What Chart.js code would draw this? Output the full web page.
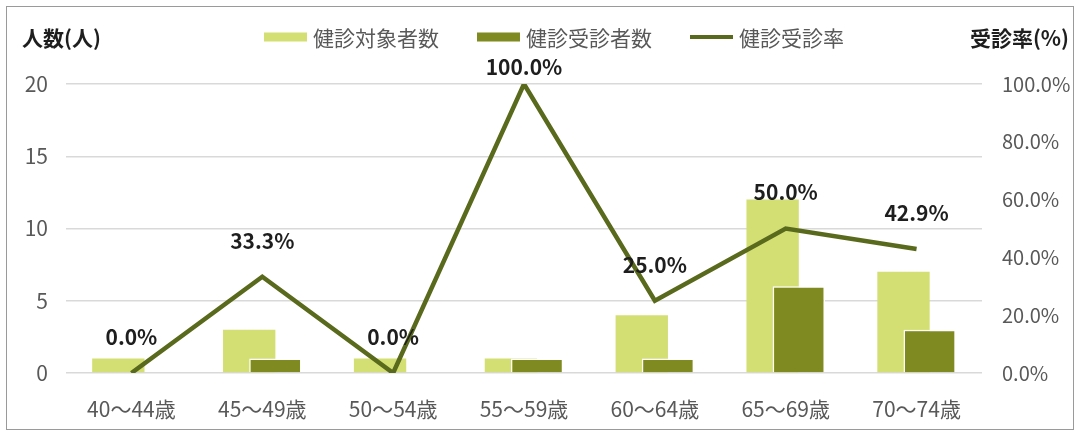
<!DOCTYPE html>
<html lang="ja">
<head>
<meta charset="utf-8">
<script src="https://cdn.jsdelivr.net/npm/chart.js@4.4.0/dist/chart.umd.min.js"></script>
<style>
  html, body { margin: 0; padding: 0; background: #fff; }
  #wrap { position: relative; width: 1078px; height: 436px; }
  #frame {
    position: absolute; left: 6px; top: 6px; width: 1066px; height: 422px;
    border: 1px solid #9a9a9a; pointer-events: none;
  }
</style>
</head>
<body>
<div id="wrap">
  <canvas id="examChart" width="1078" height="436"></canvas>
  <div id="frame"></div>
</div>
<script>
// age groups and counts
const ageGroups = ['40～44歳', '45～49歳', '50～54歳', '55～59歳', '60～64歳', '65～69歳', '70～74歳'];
const targetCounts = [1, 3, 1, 1, 4, 12, 7];
const examinedCounts = [0, 1, 0, 1, 1, 6, 3];
const examRates = [0.0, 33.3, 0.0, 100.0, 25.0, 50.0, 42.9];
const countTicks = [0, 5, 10, 15, 20];
const rateTicks = [0, 20, 40, 60, 80, 100];

const LIGHT = '#d3df72';
const DARK = '#7f8a21';
const LINE = '#5a6a1d';
const TEXT = '#595959';
const FONT = "'Noto Sans CJK JP', 'Noto Sans', sans-serif";

Chart.defaults.font.family = FONT;
Chart.defaults.color = TEXT;

// dark bars sit to the right but must be painted over the light ones
const barOrder = {
    id: 'barOrder',
    beforeDatasetDraw(chart, args) {
        if (args.index === 1 && !chart._darkPass) return false;
    },
    afterDatasetDraw(chart, args) {
        if (args.index === 0) {
            chart._darkPass = true;
            chart.getDatasetMeta(1).controller.draw();
            chart._darkPass = false;
        }
    }
};

// percentage labels above the line points
const rateLabels = {
    id: 'rateLabels',
    afterDatasetsDraw(chart) {
        const ctx = chart.ctx;
        const meta = chart.getDatasetMeta(2);
        const top = chart.chartArea.top;
        ctx.save();
        ctx.font = 'bold 21px ' + FONT;
        ctx.fillStyle = '#1e1e1e';
        ctx.textAlign = 'center';
        ctx.textBaseline = 'middle';
        meta.data.forEach((pt, i) => {
            const y = Math.max(pt.y - 36, top - 17);
            ctx.fillText(examRates[i].toFixed(1) + '%', pt.x, y);
        });
        ctx.restore();
    }
};

// legend row and axis titles
const headerText = {
    id: 'headerText',
    afterDraw(chart) {
        const ctx = chart.ctx;
        const ds = chart.data.datasets;
        ctx.save();
        ctx.textBaseline = 'middle';

        ctx.font = 'bold 21px ' + FONT;
        ctx.fillStyle = '#1e1e1e';
        ctx.textAlign = 'left';
        ctx.fillText('人数(人)', 22, 38);
        ctx.textAlign = 'right';
        ctx.fillText('受診率(%)', 1069, 38);

        ctx.font = '21px ' + FONT;
        const items = [
            { text: ds[0].label, color: LIGHT, kind: 'box' },
            { text: ds[1].label, color: DARK, kind: 'box' },
            { text: ds[2].label, color: LINE, kind: 'line' }
        ];
        const markW = 43, gap = 6, spacing = 38, cy = 37;
        let total = 0;
        items.forEach((it, i) => {
            it.w = ctx.measureText(it.text).width;
            total += markW + gap + it.w + (i ? spacing : 0);
        });
        let x = 554 - total / 2;
        ctx.textAlign = 'left';
        items.forEach(it => {
            if (it.kind === 'box') {
                ctx.fillStyle = it.color;
                ctx.fillRect(x, cy - 4.5, markW, 9);
            } else {
                ctx.strokeStyle = it.color;
                ctx.lineWidth = 4;
                ctx.beginPath();
                ctx.moveTo(x, cy);
                ctx.lineTo(x + markW, cy);
                ctx.stroke();
            }
            ctx.fillStyle = TEXT;
            ctx.fillText(it.text, x + markW + gap, cy + 1);
            x += markW + gap + it.w + spacing;
        });
        ctx.restore();
    }
};

const ctx = document.getElementById('examChart').getContext('2d');
new Chart(ctx, {
    type: 'bar',
    data: {
        labels: ageGroups,
        datasets: [
            {
                label: '健診対象者数',
                data: targetCounts,
                backgroundColor: LIGHT,
                borderWidth: 0,
                yAxisID: 'y',
                order: 1,
                categoryPercentage: 0.4,
                barPercentage: 2.0
            },
            {
                label: '健診受診者数',
                data: examinedCounts,
                backgroundColor: DARK,
                borderColor: '#ffffff',
                borderWidth: { top: 1.5, left: 1.5, right: 1.5, bottom: 0 },
                borderSkipped: 'bottom',
                yAxisID: 'y',
                order: 1,
                categoryPercentage: 0.4,
                barPercentage: 2.0
            },
            {
                type: 'line',
                label: '健診受診率',
                data: examRates,
                borderColor: LINE,
                backgroundColor: LINE,
                borderWidth: 4.5,
                borderJoinStyle: 'miter',
                pointRadius: 0,
                tension: 0,
                yAxisID: 'y1',
                order: 0
            }
        ]
    },
    options: {
        responsive: false,
        animation: false,
        layout: { padding: { top: 84, left: 0, right: 0, bottom: 0 } },
        plugins: {
            legend: { display: false },
            tooltip: { enabled: false }
        },
        scales: {
            x: {
                grid: { display: false },
                border: { display: false },
                ticks: { font: { size: 21 }, color: TEXT, padding: 15, maxRotation: 0 },
                afterFit: s => { s.height = 63; }
            },
            y: {
                position: 'left',
                min: countTicks[0],
                max: countTicks[countTicks.length - 1],
                afterBuildTicks: s => { s.ticks = countTicks.map(v => ({ value: v })); },
                grid: { color: '#d9d9d9', lineWidth: 1.5, drawTicks: false },
                border: { display: false },
                ticks: { font: { size: 21 }, color: TEXT, padding: 18 },
                afterFit: s => { s.width = 66; }
            },
            y1: {
                position: 'right',
                min: rateTicks[0],
                max: rateTicks[rateTicks.length - 1],
                afterBuildTicks: s => { s.ticks = rateTicks.map(v => ({ value: v })); },
                grid: { display: false, drawTicks: false },
                border: { display: false },
                ticks: {
                    font: { size: 20 }, color: TEXT, padding: 20,
                    callback: v => v.toFixed(1) + '%'
                },
                afterFit: s => { s.width = 96; }
            }
        }
    },
    plugins: [barOrder, rateLabels, headerText]
});
</script>
</body>
</html>
